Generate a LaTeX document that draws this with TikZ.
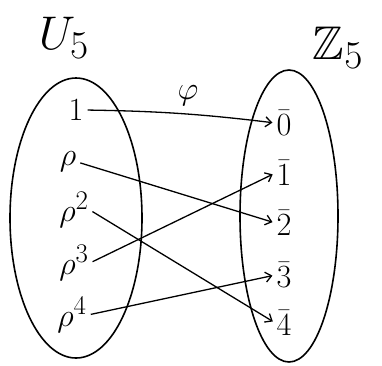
\RequirePackage{fix-cm}
\documentclass[tikz,border=0pt]{standalone}
\usepackage{amssymb}
\usepackage{graphicx}
\usetikzlibrary{arrows.meta}
\newcommand{\elemtext}[1]{\scalebox{1.3}{\Huge$#1$}}
\newcommand{\titletext}[1]{\scalebox{1.9}{\Huge$#1$}}
\tikzset{
  setoval/.style={draw, line width=1.6pt},
  elem/.style={inner sep=1pt},
  maparrow/.style={line width=1.3pt, -{Straight Barb[length=6pt,width=10pt]}, shorten <=3pt, shorten >=3pt}
}
\begin{document}
\begin{tikzpicture}[x=1pt,y=-1pt]
\useasboundingbox (0,0) rectangle (382,365);
% ovals
\draw[setoval] (76,218) ellipse [x radius=66, y radius=140];
\draw[setoval] (289,216) ellipse [x radius=49, y radius=146];
% titles
\node[elem] (U) at (64,38) {\titletext{U_5}};
\node[elem] (Z) at (338,48) {\titletext{\mathbb{Z}_5}};
\node[elem] (phi) at (188,96) {\elemtext{\varphi}};
% left elements
\node[elem] (a1) at (76,110) {\elemtext{1}};
\node[elem] (a2) at (68,162) {\elemtext{\rho}};
\node[elem] (a3) at (74,210) {\elemtext{\rho^2}};
\node[elem] (a4) at (74,263) {\elemtext{\rho^3}};
\node[elem] (a5) at (72,315) {\elemtext{\rho^4}};
% right elements
\node[elem] (b0) at (284,123) {\elemtext{\bar{0}}};
\node[elem] (b1) at (284,173) {\elemtext{\bar{1}}};
\node[elem] (b2) at (284,223) {\elemtext{\bar{2}}};
\node[elem] (b3) at (284,275) {\elemtext{\bar{3}}};
\node[elem] (b4) at (284,323) {\elemtext{\bar{4}}};
% maps
\draw[maparrow] (a1.east) to[bend left=3] (b0.west);
\draw[maparrow] (a2.east) -- (b2.west);
\draw[maparrow] (a3.east) -- (b4.west);
\draw[maparrow] (a4.east) -- (b1.west);
\draw[maparrow] (a5.east) -- (b3.west);
\end{tikzpicture}
\end{document}
